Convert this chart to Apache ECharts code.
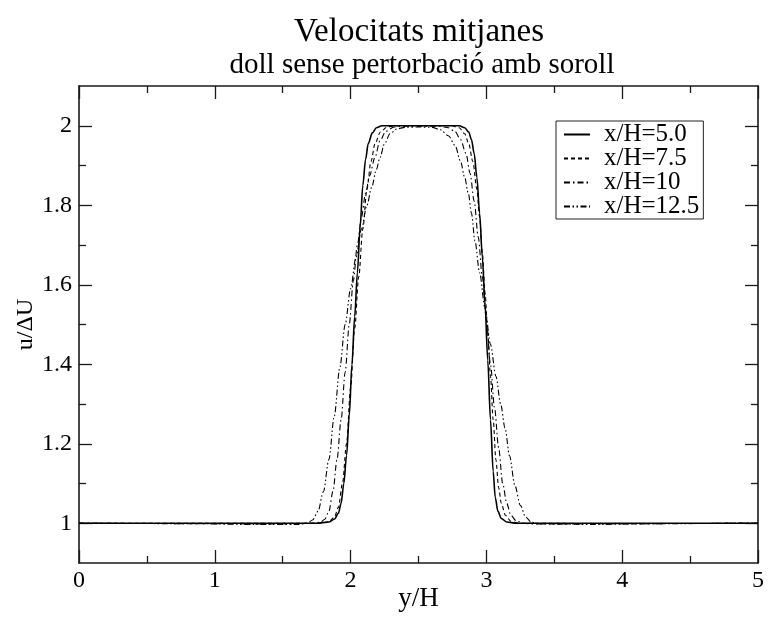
<!DOCTYPE html>
<html>
<head>
<meta charset="utf-8">
<script src="https://cdn.jsdelivr.net/npm/echarts@6/dist/echarts.min.js"></script>
<style>
html,body{margin:0;padding:0;background:#fff;}
#c{width:768px;height:621px;}
</style>
</head>
<body>
<div id="c"></div>
<script>
// ---- data ----
const seriesNames = ['x/H=5.0', 'x/H=7.5', 'x/H=10', 'x/H=12.5'];

const y_5 = [0, 1.0, 1.75, 1.84, 1.88, 1.91, 1.93, 1.95, 1.97, 1.99, 2.01, 2.03, 2.05, 2.07, 2.09, 2.11, 2.13, 2.16, 2.19, 2.23, 2.5, 2.80, 2.84, 2.87, 2.89, 2.91, 2.93, 2.95, 2.97, 2.99, 3.01, 3.03, 3.05, 3.065, 3.085, 3.11, 3.15, 3.22, 4.0, 5.0];
const u_5 = [1.0, 1.0, 1.0, 1.003, 1.01, 1.025, 1.05, 1.10, 1.17, 1.27, 1.40, 1.52, 1.63, 1.745, 1.85, 1.915, 1.955, 1.982, 1.995, 2.0, 2.0, 2.0, 1.995, 1.984, 1.965, 1.93, 1.87, 1.78, 1.67, 1.55, 1.41, 1.26, 1.13, 1.065, 1.03, 1.012, 1.003, 1.0, 1.0, 1.0];

const y_75 = [0, 1.0, 1.78, 1.84, 1.88, 1.91, 1.94, 1.97, 2.00, 2.03, 2.06, 2.09, 2.12, 2.15, 2.18, 2.22, 2.27, 2.32, 2.5, 2.74, 2.80, 2.84, 2.87, 2.90, 2.93, 2.95, 2.97, 2.99, 3.01, 3.03, 3.05, 3.07, 3.09, 3.11, 3.14, 3.18, 3.24, 4.0, 5.0];
const u_75 = [1.0, 1.0, 1.0, 1.004, 1.015, 1.04, 1.10, 1.20, 1.34, 1.49, 1.62, 1.74, 1.84, 1.91, 1.955, 1.985, 1.997, 2.0, 2.0, 2.0, 1.995, 1.98, 1.955, 1.91, 1.84, 1.77, 1.68, 1.58, 1.48, 1.37, 1.26, 1.16, 1.09, 1.05, 1.02, 1.005, 1.0, 0.999, 1.0];

const y_10 = [0, 1.0, 1.5, 1.72, 1.78, 1.81, 1.84, 1.87, 1.90, 1.93, 1.96, 1.99, 2.02, 2.05, 2.08, 2.11, 2.14, 2.18, 2.216, 2.26, 2.32, 2.38, 2.5, 2.66, 2.72, 2.77, 2.81, 2.85, 2.88, 2.91, 2.94, 2.97, 3.00, 3.03, 3.06, 3.09, 3.12, 3.15, 3.18, 3.22, 3.27, 3.35, 4.0, 5.0];
const u_10 = [1.0, 0.999, 0.998, 1.0, 1.003, 1.01, 1.03, 1.08, 1.16, 1.26, 1.38, 1.50, 1.61, 1.70, 1.77, 1.83, 1.875, 1.921, 1.962, 1.986, 1.997, 1.999, 1.999, 1.999, 1.995, 1.985, 1.965, 1.93, 1.88, 1.81, 1.72, 1.62, 1.51, 1.40, 1.29, 1.19, 1.10, 1.05, 1.02, 1.006, 1.0, 0.998, 0.999, 1.0];

const y_125 = [0, 0.8, 1.3, 1.62, 1.68, 1.72, 1.76, 1.80, 1.84, 1.88, 1.92, 1.96, 2.00, 2.04, 2.08, 2.12, 2.155, 2.19, 2.216, 2.25, 2.29, 2.34, 2.40, 2.5, 2.60, 2.66, 2.72, 2.77, 2.81, 2.84, 2.867, 2.89, 2.916, 2.95, 2.99, 3.03, 3.07, 3.105, 3.137, 3.17, 3.21, 3.25, 3.29, 3.33, 3.38, 3.8, 4.3, 5.0];
const u_125 = [1.0, 0.999, 0.997, 0.997, 1.0, 1.008, 1.03, 1.08, 1.16, 1.27, 1.39, 1.50, 1.59, 1.67, 1.74, 1.80, 1.845, 1.89, 1.92, 1.955, 1.98, 1.992, 1.996, 1.997, 1.996, 1.99, 1.975, 1.95, 1.91, 1.87, 1.83, 1.78, 1.71, 1.63, 1.54, 1.45, 1.37, 1.30, 1.24, 1.17, 1.095, 1.045, 1.015, 1.003, 0.998, 0.997, 0.999, 1.0];

const xMajorTicks = [0, 1, 2, 3, 4, 5];
const xMinorTicks = [0.5, 1.5, 2.5, 3.5, 4.5];
const yMajorTicks = [1, 1.2, 1.4, 1.6, 1.8, 2];
const yMinorTicks = [1.1, 1.3, 1.5, 1.7, 1.9];

// ---- build ----
function zip(a, b) { return a.map((v, i) => [v, b[i]]); }
const FONT = 'Liberation Serif';
const BLACK = '#000';
const AXC = '#1a1a1a';

function xAx(pos, ticks, len, labels, line, name) {
  return {
    type: 'value', min: 0, max: 5, position: pos,
    name: name || '', nameLocation: 'middle', nameGap: 22, nameMoveOverlap: false,
    nameTextStyle: { fontFamily: FONT, fontSize: 27, color: BLACK },
    axisLine: { show: line, onZero: false, lineStyle: { color: AXC, width: 1.6 } },
    axisTick: { show: true, inside: true, length: len, customValues: ticks, lineStyle: { color: AXC, width: 1.3 } },
    axisLabel: labels ? { show: true, customValues: xMajorTicks, margin: 6, fontFamily: FONT, fontSize: 24, color: BLACK } : { show: false },
    splitLine: { show: false }
  };
}
function yAx(pos, ticks, len, labels, line, name) {
  return {
    type: 'value', min: 0.9, max: 2.1, position: pos,
    name: name || '', nameLocation: 'middle', nameGap: 41, nameMoveOverlap: false,
    nameTextStyle: { fontFamily: FONT, fontSize: 24, color: BLACK },
    axisLine: { show: line, onZero: false, lineStyle: { color: AXC, width: 1.6 } },
    axisTick: { show: true, inside: true, length: len, customValues: ticks, lineStyle: { color: AXC, width: 1.3 } },
    axisLabel: labels ? { show: true, customValues: yMajorTicks, margin: 7, fontFamily: FONT, fontSize: 24, color: BLACK } : { show: false },
    splitLine: { show: false }
  };
}

const styles = [
  { width: 1.6, type: 'solid' },
  { width: 1.1, type: [4, 3] },
  { width: 1.1, type: [6, 3, 1.5, 3] },
  { width: 1.1, type: [6, 2.5, 1.5, 2.5, 1.5, 2.5] }
];
const dataSets = [zip(y_5, u_5), zip(y_75, u_75), zip(y_10, u_10), zip(y_125, u_125)];

const chart = echarts.init(document.getElementById('c'), null, { renderer: 'canvas' });
chart.setOption({
  backgroundColor: '#fff',
  animation: false,
  title: [
    { text: 'Velocitats mitjanes', left: 414, top: 11, textAlign: 'center',
      textStyle: { fontFamily: FONT, fontSize: 33, fontWeight: 'normal', color: BLACK } },
    { text: 'doll sense pertorbació amb soroll', left: 417, top: 46, textAlign: 'center',
      textStyle: { fontFamily: FONT, fontSize: 29, fontWeight: 'normal', color: BLACK } }
  ],
  grid: { left: 79, right: 10, top: 86, bottom: 58, containLabel: false, outerBoundsMode: 'none' },
  legend: {
    orient: 'vertical', left: 556, top: 121,
    data: seriesNames,
    itemWidth: 26, itemHeight: 12, itemGap: -1,
    padding: [1, 4, 0, 7],
    borderColor: '#222', borderWidth: 1,
    itemStyle: { opacity: 0 },
    textStyle: { fontFamily: FONT, fontSize: 25, lineHeight: 22, color: BLACK, padding: [0, 0, 0, 9] }
  },
  xAxis: [
    xAx('bottom', xMajorTicks, 13, true, true, 'y/H'),
    xAx('bottom', xMinorTicks, 7, false, false),
    xAx('top', xMajorTicks, 13, false, true),
    xAx('top', xMinorTicks, 7, false, false)
  ],
  yAxis: [
    yAx('left', yMajorTicks, 13, true, true, 'u/ΔU'),
    yAx('left', yMinorTicks, 7, false, false),
    yAx('right', yMajorTicks, 13, false, true),
    yAx('right', yMinorTicks, 7, false, false)
  ],
  series: seriesNames.map((n, i) => ({
    name: n, type: 'line', xAxisIndex: 0, yAxisIndex: 0,
    data: dataSets[i], showSymbol: false, symbol: 'none',
    smooth: 0.3, smoothMonotone: 'x',
    lineStyle: { color: BLACK, width: styles[i].width, type: styles[i].type },
    itemStyle: { color: BLACK },
    z: 10 - i
  }))
});
</script>
</body>
</html>
